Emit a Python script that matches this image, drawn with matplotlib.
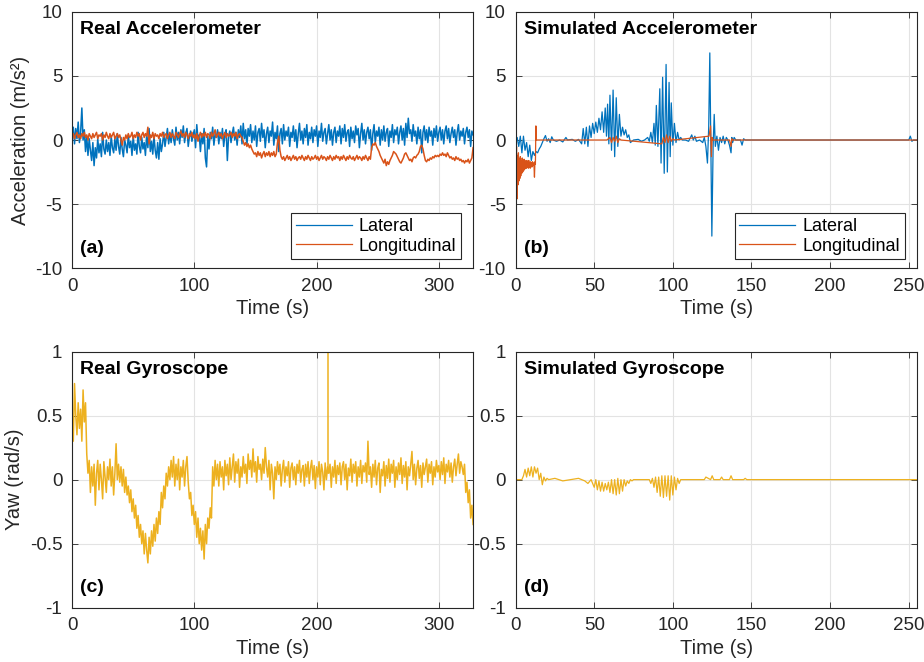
import matplotlib
matplotlib.use('Agg')
import matplotlib.pyplot as plt
import numpy as np

plt.rcParams['font.family'] = ['Liberation Sans', 'DejaVu Sans']
plt.rcParams['axes.unicode_minus'] = False

# colores estilo MATLAB
blue = '#0072BD'
orange = '#D95319'
yellow = '#EDB120'
dark = '#262626'

# ---- datos reales (una muestra por segundo, t = 0..328 s) ----
real_step = 1.0
real_lat = [
    0.2, 1.0, -0.3, 0.9, 0.1, 1.4, -0.2, 0.6, 2.5, 0.0,
    0.8, -0.9, 0.3, -1.2, 0.1, -0.8, -1.6, -0.2, -2.0, -0.6,
    -1.4, 0.1, -1.0, -0.3, -1.3, 0.6, -0.7, -1.1, 0.0, -0.9,
    -0.2, -1.2, 0.3, -0.6, -1.0, 0.1, -0.8, 0.5, -0.5, -1.1,
    0.2, -0.7, -1.3, 0.0, -0.4, -1.0, 0.4, -0.6, -0.1, -1.2,
    0.3, -0.8, -0.3, -1.1, 0.6, -0.5, -1.0, 0.2, -0.7, -0.2,
    -1.2, 0.4, -0.6, 0.9, -0.9, -0.1, -1.1, 0.3, -0.8, -1.4,
    -0.2, -1.5, 0.1, -0.9, -0.3, 0.6, -0.5, 0.2, 0.9, -0.3,
    0.5, -0.2, 0.8, 0.1, -0.4, 1.0, 0.0, 0.6, -0.3, 0.8,
    0.2, 1.1, -0.2, 0.5, 0.9, -0.5, 0.3, 0.7, -0.1, 0.4,
    0.8, -0.6, 1.2, 0.0, 0.4, -0.9, 0.5, -0.3, 0.9, -1.4,
    -2.1, 0.3, -0.7, 0.6, 0.1, 1.0, -0.4, 0.5, 0.2, 0.8,
    -0.3, 0.6, 0.1, 0.9, -0.5, 0.4, 0.8, -1.6, 0.3, 0.7,
    -0.2, 0.5, 1.0, 0.0, 0.6, -0.4, 0.8, 0.2, 1.1, -0.3,
    1.3, 0.1, 0.8, -0.4, 0.9, 0.3, 1.2, -0.2, 0.7, 0.0,
    1.1, -0.5, 0.6, 0.9, -0.1, 1.3, 0.2, 0.8, -0.6, 0.5,
    1.0, -0.2, 0.7, 0.3, 1.4, -0.4, 0.6, 0.1, 1.1, -0.9,
    0.5, 0.9, -0.3, 1.2, 0.0, 0.7, 0.3, 1.0, -0.5, 0.6,
    0.2, 1.1, -0.1, 0.8, -0.6, 0.5, 1.3, 0.0, 0.7, -0.3,
    0.9, 0.2, 1.2, -0.4, 0.6, 0.1, 1.0, -0.2, 0.8, 0.3,
    1.1, -0.5, 0.7, 0.2, 1.3, -0.1, 0.6, 0.9, -0.3, 0.5,
    1.2, 0.0, 0.8, -0.4, 0.6, 1.0, -0.2, 0.7, 0.3, 1.1,
    -0.3, 0.9, 0.2, 1.2, -0.1, 0.6, 0.8, -0.5, 1.0, 0.1,
    0.7, -0.2, 1.1, 0.4, 0.9, -0.6, 0.5, 1.3, 0.0, 0.8,
    -0.3, 0.6, 1.0, 0.1, 0.8, -0.8, 0.5, 1.2, -0.2, 0.7,
    0.3, 1.0, -0.4, 0.8, 0.0, 1.1, -0.1, 0.6, 0.9, -0.5,
    0.7, 0.2, 1.2, -0.2, 0.8, 0.4, 1.0, -0.3, 0.6, 1.1,
    0.0, 0.9, -0.4, 1.3, 0.2, 1.7, 0.5, 0.8, -0.1, 1.2,
    0.3, 0.7, -0.3, 1.0, 0.1, 0.8, -1.0, 0.6, 1.1, 0.0,
    0.8, -0.2, 1.0, 0.3, 0.7, -0.4, 0.9, 0.2, 1.1, -0.1,
    0.6, 1.0, 0.0, 0.8, -0.3, 0.7, 1.1, 0.1, 0.9, -0.2,
    0.5, 1.0, 0.2, 0.8, -0.4, 0.6, 1.2, 0.0, 0.7, 0.3,
    0.9, -0.3, 0.6, 1.0, 0.2, 0.8, -0.5, 0.7, 0.4,
]
real_lon = [
    0.3, 0.5, 0.1, 0.4, 0.6, 0.2, 0.4, 0.1, 0.5, 0.3,
    0.6, 0.2, 0.4, 0.0, 0.5, 0.3, 0.1, 0.5, 0.2, 0.4,
    0.6, 0.1, 0.4, 0.3, 0.5, 0.0, 0.4, 0.2, 0.6, 0.3,
    0.1, 0.5, 0.2, 0.4, 0.6, 0.1, 0.3, 0.5, 0.2, 0.4,
    0.0, -0.4, 0.2, 0.0, 0.4, 0.1, 0.5, 0.2, 0.3, 0.6,
    0.1, 0.4, 0.2, 0.6, 0.3, 0.5, 0.0, 0.4, 0.6, 0.2,
    0.5, 0.3, 1.0, -0.3, 0.4, 0.2, 0.6, 0.1, 0.5, 0.3,
    0.4, 0.1, 0.5, 0.3, 0.6, 0.2, 0.4, 0.5, 0.1, 0.4,
    0.6, 0.2, 0.5, 0.3, 0.1, 0.6, 0.4, 0.2, 0.5, 0.7,
    0.3, 0.5, 0.2, 0.6, 0.4, 0.1, 0.5, 0.3, 0.6, 0.2,
    0.4, 0.1, 0.5, -0.1, 0.3, 0.6, 0.2, 0.5, 0.3, 0.6,
    0.2, 0.5, 0.4, 0.1, 0.6, 0.3, 0.5, 0.8, 0.2, 0.4,
    0.6, 0.3, 0.5, 0.1, 0.4, 0.6, 0.2, 0.5, 0.3, 0.4,
    0.6, 0.2, 0.5, 0.3, 0.6, 0.1, 0.4, 0.5, 0.3, 0.2,
    -0.1, -0.4, -0.2, -0.5, -0.3, -0.6, -0.4, -0.7, -0.9, -1.1,
    -1.0, -1.3, -0.9, -1.2, -1.0, -1.4, -1.1, -0.9, -1.3, -1.0,
    -1.2, -0.9, -1.3, -1.0, -1.2, -0.9, -1.3, -1.1, -0.2, 0.3,
    -0.8, -1.3, -1.5, -1.3, -1.6, -1.4, -1.2, -1.5, -1.3, -1.6,
    -1.4, -1.2, -1.5, -1.3, -1.6, -1.4, -1.3, -1.5, -1.2, -1.4,
    -1.6, -1.3, -1.5, -1.2, -1.4, -1.6, -1.3, -1.5, -1.4, -1.2,
    -1.5, -1.3, -1.6, -1.4, -1.2, -1.5, -1.3, -1.4, -1.6, -1.3,
    -1.5, -1.2, -1.4, -1.6, -1.3, -1.5, -1.2, -1.4, -1.3, -1.6,
    -1.3, -1.5, -1.2, -1.4, -1.6, -1.3, -1.5, -1.2, -1.4, -1.5,
    -1.3, -1.6, -1.4, -1.2, -1.5, -1.3, -1.4, -1.6, -1.3, -1.5,
    -1.2, -1.4, -1.6, -1.3, -1.5, -0.6, -0.3, -0.4, -0.2, -0.5,
    -0.7, -0.9, -1.2, -1.4, -1.6, -1.8, -1.5, -2.0, -1.7, -1.9,
    -1.6, -1.4, -1.2, -0.9, -1.0, -1.1, -1.3, -1.5, -1.7, -1.8,
    -1.6, -1.4, -1.1, -1.0, -1.2, -1.4, -1.6, -1.5, -1.7, -1.4,
    -1.3, -1.4, -1.2, -1.1, -0.9, -0.5, -0.4, -0.7, -1.2, -1.6,
    -1.7, -1.5, -1.6, -1.4, -1.5, -1.3, -1.4, -1.2, -1.3, -1.2,
    -1.3, -1.1, -1.2, -1.0, -1.2, -1.1, -1.3, -1.0, -1.2, -1.4,
    -1.3, -1.5, -1.4, -1.6, -1.3, -1.5, -1.4, -1.6, -1.5, -1.7,
    -1.6, -1.8, -1.6, -1.7, -1.5, -1.8, -1.6, -1.4, -0.6,
]
real_yaw = [
    0.45, 0.3, 0.75, 0.5, 0.35, 0.6, 0.4, 0.55, 0.3, 0.7,
    0.45, 0.6, 0.2, 0.05, 0.15, -0.1, 0.1, -0.05, 0.12, -0.2,
    0.05, 0.15, -0.08, 0.12, 0.0, -0.15, 0.14, 0.02, -0.1, 0.1,
    0.0, 0.16, -0.05, 0.1, -0.12, 0.05, 0.28, 0.0, 0.12, -0.02,
    0.1, -0.05, 0.08, -0.1, 0.02, -0.12, -0.05, -0.18, -0.08, -0.25,
    -0.15, -0.3, -0.2, -0.38, -0.28, -0.45, -0.35, -0.5, -0.4, -0.58,
    -0.42, -0.55, -0.65, -0.45, -0.58, -0.4, -0.52, -0.35, -0.48, -0.3,
    -0.42, -0.25, -0.35, -0.1, -0.22, -0.05, -0.15, 0.05, -0.05, 0.1,
    0.0, 0.15, 0.02, 0.18, -0.05, 0.12, 0.0, 0.16, -0.08, 0.1,
    0.02, 0.15, -0.05, 0.1, 0.18, -0.02, -0.15, -0.1, -0.28, -0.2,
    -0.35, -0.25, -0.45, -0.3, -0.5, -0.38, -0.55, -0.4, -0.62, -0.35,
    -0.5, -0.3, -0.38, -0.22, -0.3, 0.1, -0.05, 0.15, 0.0, 0.12,
    -0.05, 0.14, 0.02, 0.1, -0.08, 0.15, 0.03, 0.12, -0.04, 0.17,
    0.0, 0.1, 0.2, -0.02, 0.14, 0.05, 0.16, -0.06, 0.1, 0.02,
    0.18, 0.05, 0.12, -0.03, 0.2, 0.08, 0.15, 0.02, 0.24, 0.06,
    0.14, -0.02, 0.18, 0.08, 0.12, 0.0, 0.16, 0.05, 0.25, 0.1,
    0.02, 0.15, -0.08, 0.12, 0.05, -0.15, 0.1, 0.0, 0.14, 0.04,
    0.12, -0.05, 0.08, 0.15, -0.02, 0.1, 0.03, 0.14, -0.06, 0.09,
    0.13, 0.0, 0.1, -0.04, 0.12, 0.05, 0.15, -0.02, 0.08, 0.11,
    -0.05, 0.12, 0.02, 0.14, -0.03, 0.09, 0.15, 0.0, 0.11, -0.07,
    0.1, 0.02, 0.14, -0.04, 0.12, 0.06, -0.08, 0.13, 0.0, 0.1,
    0.05, 0.12, -0.06, 0.1, 0.02, 0.15, -0.03, 0.11, 0.04, 0.13,
    -0.04, 0.1, 0.14, 0.0, 0.12, -0.08, 0.09, 0.03, 0.16, -0.02,
    0.12, 0.05, 0.14, -0.05, 0.1, 0.02, 0.15, -0.03, 0.11, 0.06,
    0.13, -0.02, 0.3, 0.04, 0.1, -0.06, 0.12, 0.02, 0.15, -0.04,
    0.09, 0.13, -0.1, 0.08, 0.03, 0.14, -0.05, 0.11, 0.01, 0.16,
    -0.02, 0.12, 0.05, 0.15, -0.06, 0.1, 0.0, 0.13, 0.04, 0.17,
    -0.03, 0.11, 0.02, 0.14, -0.08, 0.1, 0.03, 0.12, 0.22, 0.0,
    0.12, -0.04, 0.09, 0.15, 0.01, 0.11, -0.06, 0.13, 0.04, 0.1,
    0.16, -0.02, 0.12, 0.05, 0.14, -0.04, 0.1, 0.02, 0.15, 0.06,
    0.11, 0.0, 0.14, 0.04, 0.17, -0.03, 0.12, 0.06, 0.15, 0.02,
    0.13, -0.02, 0.1, 0.16, 0.03, 0.12, 0.2, 0.05, 0.14, 0.1,
    0.04, 0.12, -0.1, -0.02, -0.18, -0.08, -0.3, -0.2, -0.35,
]
yaw_spike_t = 209.5
yaw_spike_top = 1.05

# ---- datos simulados (tiempos irregulares) ----
sim_lat_t = [0, 1, 2, 3, 4, 5, 6, 7, 8, 9, 10, 11, 12, 13, 14, 15, 16, 17, 18, 19,
             20, 21, 22, 23, 24, 26, 28, 30, 32, 33, 36, 38, 40, 42,
             43, 44, 45, 46, 47, 48, 49, 50, 51, 52, 53, 54, 55, 56, 57, 57.8,
             58.5, 59.3, 60, 61, 62, 63, 64, 65, 66, 67, 68, 69, 70, 71, 72, 73,
             75, 78, 80, 82, 84, 85, 86, 87, 88, 88.8, 89.5, 90.5, 91.7, 92.5,
             93.5, 94.5, 95.7, 96.5, 97.6, 98.3, 99, 100, 101, 102, 103, 104,
             105, 106, 108, 110, 112, 113, 114, 115, 117, 119, 120, 121, 122,
             122.8, 123.5, 124.8, 125.6, 126.3, 127, 128, 129, 130, 131, 132,
             133, 134, 135, 136, 137, 137.5, 138, 139, 140, 143, 144, 145, 146,
             250, 251, 252, 253, 255]
sim_lat = [0.0, 0.2, -0.5, 0.3, -1.0, 0.3, -0.8, -0.2, -1.3, -0.4, -1.6, -0.9, -1.2,
           -0.9, -1.0, -0.7, -0.5, -0.2, 0.1, 0.35,
           -0.1, 0.1, -0.2, 0.25, 0.0, -0.1, 0.0, -0.15, 0.2, 0.0, 0.05, -0.1, 0.05, -0.3,
           0.9, -0.3, 1.0, -0.5, 1.1, 0.2, 1.3, 0.5, 1.4, 0.6, 1.7, 0.8, 2.2, 0.6, 2.5, 0.3,
           2.8, -0.3, 3.5, -0.8, 3.9, -1.3, 3.3, -0.5, 2.0, 0.3, 1.0, 0.4, 0.8, 0.2, 0.4, -0.2,
           0.0, 0.05, -0.1, 0.0, 0.2, -0.1, 0.6, -0.2, 1.3, -0.4, 2.7, -0.5, 4.0, -1.8,
           4.9, -2.6, 5.9, -2.5, 4.5, -1.3, 2.9, -0.4, 1.3, -0.2, 0.6, 0.0,
           0.2, 0.0, 0.0, -0.1, 0.4, 0.0, 0.3, -0.1, 0.0, -0.2, 0.2, -0.5, -1.8,
           1.0, 6.8, -7.5, -0.5, 2.0, -0.5, 0.3, -0.8, 0.2, -0.2, 0.3,
           -0.3, 0.2, 0.0, -0.4, -1.0, 0.2, -0.2, 0.2, 0.0, 0.0, -0.4, 0.1, 0.0,
           0.0, 0.3, -0.1, 0.0, 0.0]

sim_lon_t = [0, 0.3, 0.6, 0.9, 1.2, 1.5, 1.8, 2.1, 2.4, 2.7, 3.0, 3.3, 3.6, 3.9,
             4.2, 4.5, 4.8, 5.1, 5.4, 5.7, 6.0, 6.3, 6.6, 6.9, 7.2, 7.5, 7.8,
             8.1, 8.4, 8.7, 9.0, 9.3, 9.6, 9.9, 10.2, 10.5, 10.8, 11.1, 11.4,
             11.7, 12.0, 12.3, 12.6, 12.9, 13.2, 14, 58, 60, 61, 62, 63, 64,
             65, 66, 67, 93, 94, 95, 96, 97, 98, 99, 100, 101, 123, 124, 124.5,
             125, 125.5, 136, 137, 137.5, 138, 255]
sim_lon = [0.0, -2.0, -0.5, -4.6, -1.2, -3.5, -1.0, -3.2, -1.5, -3.0, -1.3, -2.8,
           -1.6, -2.6, -1.4, -2.5, -1.6, -2.4, -1.5, -2.3, -1.6, -2.2, -1.7, -2.2,
           -1.6, -2.1, -1.7, -2.2, -1.6, -2.1, -1.8, -2.2, -1.7, -2.1, -1.8, -2.1,
           -1.7, -2.0, -1.8, -2.0, -2.9, -1.7, -1.9, 1.1, 0.0, 0.0, 0.0, 0.2, -0.2,
           0.2, -0.1, 0.3, -0.2, 0.1, 0.0, -0.3, 0.2, -0.2, 0.4, -0.2, 0.3, -0.1,
           0.1, 0.0, 0.3, 1.1, -1.3, 0.2, 0.0, 0.0, -0.5, 0.1, 0.0, 0.0]

sim_yaw_t = [0, 4, 5, 6, 7, 8, 9, 10, 11, 12, 13, 14, 15, 16, 17, 18, 19, 20, 21,
             25, 30, 35, 40, 44, 46, 48, 50, 51, 52, 53, 54, 55, 56, 57, 58, 59,
             60, 61, 62, 63, 64, 65, 66, 67, 68, 69, 70, 71, 72, 73, 74, 75,
             85, 86, 87, 88, 89, 90, 91, 92, 93, 94, 95, 96, 97, 98, 99, 100,
             101, 102, 103, 104, 105, 115, 120, 121, 124, 125, 126, 130, 131,
             132, 136, 137, 138, 145, 146, 147, 255]
sim_yaw = [0.0, 0.0, 0.03, 0.08, 0.02, 0.09, 0.03, 0.1, 0.02, 0.1, 0.05, 0.09, 0.0,
           0.05, -0.04, 0.02, -0.01, 0.01, 0.0,
           0.01, -0.01, 0.0, 0.01, -0.01, -0.03, 0.0, -0.06, 0.0, -0.08, -0.01, -0.09,
           -0.02, -0.09, -0.03, -0.08, -0.02, -0.1, 0.0, -0.11, 0.0, -0.12, 0.01, -0.11,
           0.0, -0.09, 0.0, -0.05, -0.01, -0.03, 0.0, -0.01, 0.0,
           0.0, -0.03, 0.01, -0.06, 0.02, -0.1, 0.02, -0.13, 0.03, -0.14, 0.03, -0.13,
           0.03, -0.16, 0.03, -0.12, 0.02, -0.08, 0.01, -0.03, 0.0, 0.0, 0.0, 0.02,
           0.0, 0.03, 0.0, 0.0, 0.02, 0.0, 0.0, 0.03, 0.0, 0.0, 0.01, 0.0, 0.0]

acc_ticks = [-10, -5, 0, 5, 10]
acc_labels = ['-10', '-5', '0', '5', '10']
yaw_ticks = [-1, -0.5, 0, 0.5, 1]
yaw_labels = ['-1', '-0.5', '0', '0.5', '1']

real_t = np.arange(len(real_lat)) * real_step
real_t_yaw = np.arange(len(real_yaw)) * real_step

fig = plt.figure(figsize=(9.24, 6.62), dpi=100)
ax_a = fig.add_axes([0.078, 0.595, 0.434, 0.387])
ax_b = fig.add_axes([0.558, 0.595, 0.434, 0.387])
ax_c = fig.add_axes([0.078, 0.082, 0.434, 0.387])
ax_d = fig.add_axes([0.558, 0.082, 0.434, 0.387])


def style(ax, xmax, xticks, yticks, ylabels, title, tag):
    ax.set_xlim(0, xmax)
    ax.set_ylim(yticks[0], yticks[-1])
    ax.set_xticks(xticks)
    ax.set_yticks(yticks)
    ax.set_yticklabels(ylabels)
    ax.grid(True, color='#E3E3E3', linewidth=0.8)
    ax.set_axisbelow(True)
    ax.tick_params(direction='in', top=True, right=True, length=4, pad=7,
                   width=0.6, color=dark, labelsize=13.5, labelcolor=dark)
    for s in ax.spines.values():
        s.set_color(dark)
        s.set_linewidth(0.8)
    ax.set_xlabel('Time (s)', fontsize=14.5, color=dark, labelpad=3)
    ax.text(0.02, 0.93, title, transform=ax.transAxes, fontsize=14,
            fontweight='bold', ha='left', va='center')
    ax.text(0.02, 0.078, tag, transform=ax.transAxes, fontsize=14,
            fontweight='bold', ha='left', va='center')


# (a)
ax_a.plot(real_t, real_lat, color=blue, lw=1.1, label='Lateral')
ax_a.plot(real_t, real_lon, color=orange, lw=1.1, label='Longitudinal')
style(ax_a, 328, [0, 100, 200, 300], acc_ticks, acc_labels,
      'Real Accelerometer', '(a)')
ax_a.set_ylabel('Acceleration (m/s²)', fontsize=14.5, color=dark, labelpad=4)

# (b)
ax_b.plot(sim_lat_t, sim_lat, color=blue, lw=0.9, label='Lateral')
ax_b.plot(sim_lon_t, sim_lon, color=orange, lw=0.9, label='Longitudinal')
style(ax_b, 255, [0, 50, 100, 150, 200, 250], acc_ticks, acc_labels,
      'Simulated Accelerometer', '(b)')

for ax in (ax_a, ax_b):
    leg = ax.legend(loc='lower right', bbox_to_anchor=(0.97, 0.035), fontsize=13,
                    fancybox=False, framealpha=1, edgecolor=dark,
                    handlelength=3.1, borderpad=0.25, labelspacing=0.15,
                    handletextpad=0.4, borderaxespad=0)
    leg.get_frame().set_linewidth(0.8)
    for h in leg.get_lines():
        h.set_linewidth(0.9)

# (c)
ax_c.plot(real_t_yaw, real_yaw, color=yellow, lw=1.1)
ax_c.plot([yaw_spike_t, yaw_spike_t], [0.05, yaw_spike_top], color=yellow, lw=1.1)
style(ax_c, 328, [0, 100, 200, 300], yaw_ticks, yaw_labels,
      'Real Gyroscope', '(c)')
ax_c.set_ylabel('Yaw (rad/s)', fontsize=14.5, color=dark, labelpad=4)

# (d)
ax_d.plot(sim_yaw_t, sim_yaw, color=yellow, lw=0.9)
style(ax_d, 255, [0, 50, 100, 150, 200, 250], yaw_ticks, yaw_labels,
      'Simulated Gyroscope', '(d)')

fig.savefig('out.png', dpi=100, facecolor='white')
